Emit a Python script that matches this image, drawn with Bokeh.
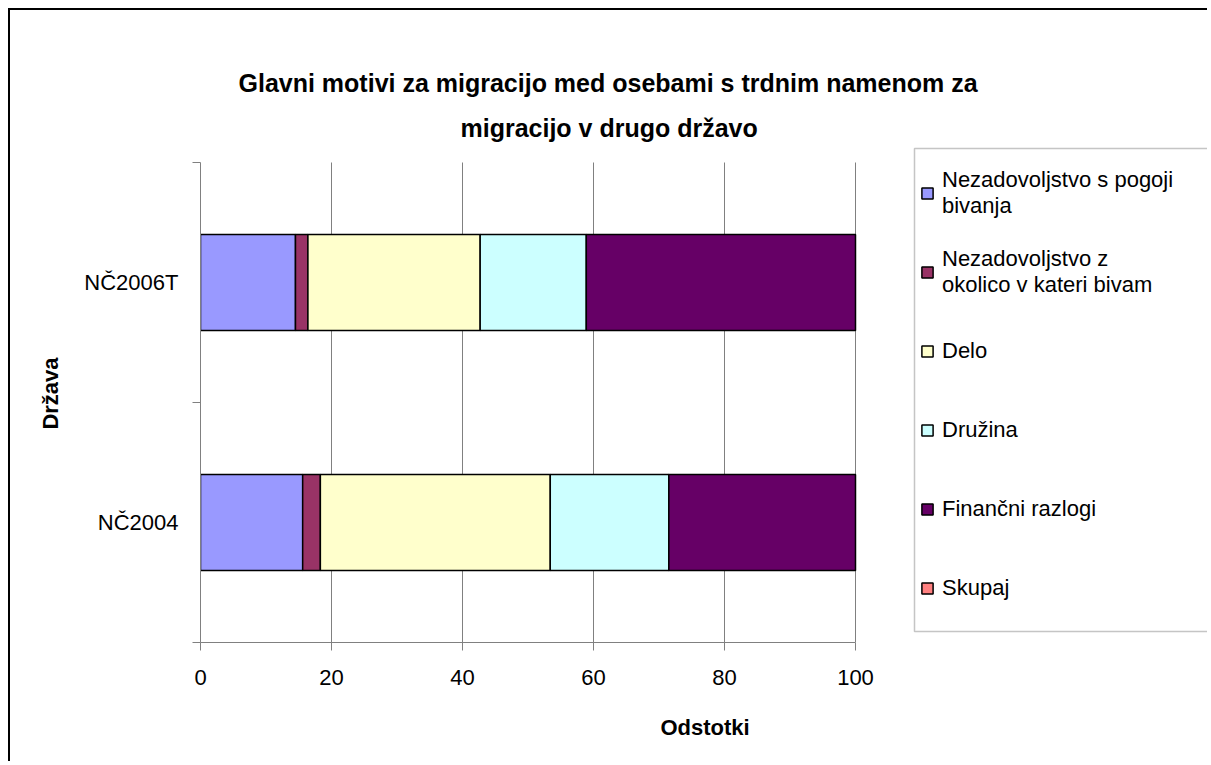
from bokeh.plotting import figure
from bokeh.models import (ColumnDataSource, Range1d, FixedTicker, Legend, LegendItem,
                          Title, BoxAnnotation)
from bokeh.embed import file_html
from bokeh.resources import INLINE

# ---------------- data ----------------
categories = ["NČ2004", "NČ2006T"]            # bottom to top
series = ["Nezadovoljstvo s pogoji\nbivanja",
          "Nezadovoljstvo z\nokolico v kateri bivam",
          "Delo", "Družina", "Finančni razlogi", "Skupaj"]
pogoji = [15.6, 14.5]
okolica = [2.7, 1.9]
delo = [35.1, 26.3]
druzina = [18.1, 16.2]
financni = [28.5, 41.1]
skupaj = [100.0, 100.0]
colors = ["#9999FF", "#993366", "#FFFFCC", "#CCFFFF", "#660066", "#FF8080"]
x_ticks = [0, 20, 40, 60, 80, 100]
title_lines = ["Glavni motivi za migracijo med osebami s trdnim namenom za",
               "migracijo v drugo državo"]

FONT = "Liberation Sans"
AX = "#808080"

ncat = len(categories)
ypos = [i + 0.5 for i in range(ncat)]
keys = ["s0", "s1", "s2", "s3", "s4", "s5"]
source = ColumnDataSource(dict(y=ypos, s0=pogoji, s1=okolica, s2=delo,
                               s3=druzina, s4=financni, s5=skupaj))

# layout (canvas pixels)
W, H = 1199, 753
FL, FT, FB = 190, 134, 121           # frame left / top / bottom borders
PX_PER_UNIT_X = 655 / 100            # 0..100 spans 655 px
PX_PER_CAT = 240                     # one category band
x_end = (W - FL) / PX_PER_UNIT_X
y_end = (H - FT - FB) / PX_PER_CAT

p = figure(width=W, height=H, output_backend="svg", toolbar_location=None,
           x_range=Range1d(0, x_end), y_range=Range1d(0, y_end),
           min_border_left=FL, min_border_right=0,
           min_border_top=FT, min_border_bottom=FB,
           background_fill_color="white", border_fill_color="white")
p.styles = {"margin-left": "8px", "margin-top": "8px",
            "border-left": "2px solid black", "border-top": "2px solid black"}
p.outline_line_color = None
p.grid.grid_line_color = None

# vertical grid lines over the category area
p.segment(x0=x_ticks[1:], y0=0, x1=x_ticks[1:], y1=ncat,
          line_color=AX, line_width=1, level="underlay")

renderers = p.hbar_stack(keys, y="y", height=0.4, color=colors, source=source,
                         line_color="black", line_width=1.5)
renderers[-1].visible = False   # "Skupaj" only appears in the legend

# axes
p.xaxis.bounds = (0, 100)
p.xaxis.ticker = FixedTicker(ticks=x_ticks)
p.xaxis.axis_line_color = AX
p.xaxis.major_tick_line_color = AX
p.xaxis.major_tick_out = 8
p.xaxis.major_tick_in = 0
p.xaxis.minor_tick_line_color = None
p.xaxis.major_label_text_font = FONT
p.xaxis.major_label_text_font_size = "22px"
p.xaxis.major_label_text_color = "black"
p.xaxis.major_label_standoff = 19
p.xaxis.axis_label = "Odstotki"
p.xaxis.axis_label_text_font = FONT
p.xaxis.axis_label_text_font_size = "22px"
p.xaxis.axis_label_text_font_style = "bold"
p.xaxis.axis_label_text_color = "black"
p.xaxis.axis_label_standoff = 27

p.yaxis.bounds = (0, ncat)
p.yaxis.ticker = FixedTicker(ticks=ypos, minor_ticks=list(range(ncat + 1)))
p.yaxis.major_label_overrides = {y: c for y, c in zip(ypos, categories)}
p.yaxis.axis_line_color = AX
p.yaxis.major_tick_line_color = None
p.yaxis.major_tick_out = 0
p.yaxis.major_tick_in = 0
p.yaxis.minor_tick_line_color = AX
p.yaxis.minor_tick_out = 8
p.yaxis.minor_tick_in = 0
p.yaxis.major_label_text_font = FONT
p.yaxis.major_label_text_font_size = "22px"
p.yaxis.major_label_text_color = "black"
p.yaxis.major_label_standoff = 14
p.yaxis.axis_label = "Država"
p.yaxis.axis_label_text_font = FONT
p.yaxis.axis_label_text_font_size = "22px"
p.yaxis.axis_label_text_font_style = "bold"
p.yaxis.axis_label_text_color = "black"
p.yaxis.axis_label_standoff = 18

# title (two lines)
t2 = Title(text=title_lines[1], align="left", offset=260, standoff=5,
           text_font=FONT, text_font_size="25px", text_font_style="bold",
           text_color="black")
t1 = Title(text=title_lines[0], align="left", offset=38, standoff=25,
           text_font=FONT, text_font_size="25px", text_font_style="bold",
           text_color="black")
p.add_layout(t2, "above")
p.add_layout(t1, "above")

# legend frame (runs off the right edge like the original)
BOX_X, BOX_Y, BOX_H = 714, 11, 483
box = BoxAnnotation(left=BOX_X, right=BOX_X + 1000, bottom=BOX_Y, top=BOX_Y + BOX_H,
                    left_units="screen", right_units="screen",
                    bottom_units="screen", top_units="screen",
                    fill_alpha=0, line_color="#404040", line_width=1.5)
p.add_layout(box)

# legend
items = [LegendItem(label=s, renderers=[r]) for s, r in zip(series, renderers)]
legend = Legend(items=items, location=(BOX_X - 8, BOX_Y), orientation="vertical",
                glyph_width=14, glyph_height=14, label_height=59,
                label_width=300, label_standoff=8, spacing=20, padding=14,
                margin=0, label_text_font=FONT, label_text_font_size="22px",
                label_text_color="black", label_text_line_height=1.35,
                border_line_color="#555555", border_line_alpha=0.0,
                background_fill_color="white", background_fill_alpha=0.0,
                inactive_fill_alpha=0.0)
p.add_layout(legend, "center")

open("out.html", "w").write(file_html(p, INLINE))
